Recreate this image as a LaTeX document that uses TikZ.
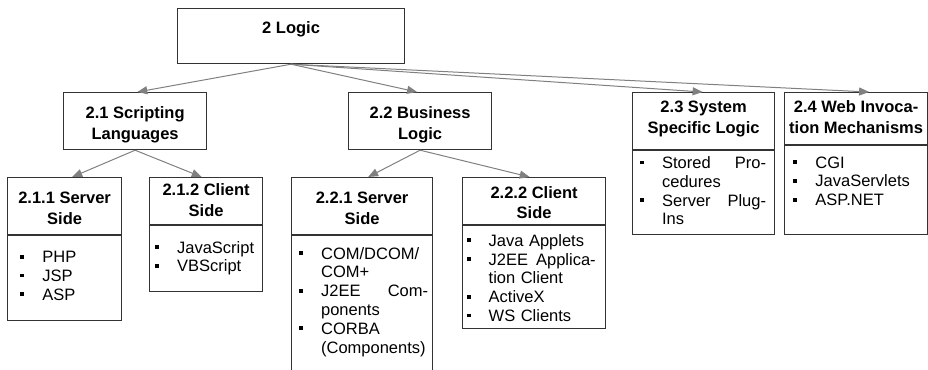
\documentclass[tikz,border=0pt]{standalone}
\usepackage{fontspec}
\setmainfont{Liberation Sans}
\usetikzlibrary{arrows.meta}
\setlength{\parindent}{0pt}
\newcommand{\bitem}{\par\noindent\llap{\rule[2pt]{1.9pt}{1.9pt}\hspace{9.1pt}}}
\newcommand{\ttl}[4]{\rule{0pt}{#1}#3\\#4\rule[-#2]{0pt}{#2}}

\begin{document}
\begin{tikzpicture}[x=0.5pt,y=-0.5pt,
  box/.style={draw=black!80,line width=0.6pt,rectangle,inner sep=1pt,anchor=north west},
  head/.style={box,align=center,font=\bfseries\fontsize{8.25}{10.1}\selectfont},
  items/.style={inner sep=0pt,anchor=north west,align=left,font=\fontsize{8.25}{9.4}\selectfont},
  link/.style={draw=black!50,line width=0.5pt,-{Triangle[length=5pt,width=4pt]}}]
  \useasboundingbox (0,0) rectangle (928,370);

  \node[head,minimum width=113.5pt,minimum height=27.5pt,text height=6pt,text depth=8.6pt] (logic) at (177,8) {2 Logic};

  \node[head,minimum width=71.5pt,minimum height=28.5pt] (s21) at (63,92) {\ttl{9.7pt}{1.8pt}{2.1 Scripting}{Languages}};
  \node[head,minimum width=71.5pt,minimum height=28.5pt] (s22) at (348,92) {\ttl{9.7pt}{1.8pt}{2.2 Business}{Logic}};
  \node[head,minimum width=71pt,minimum height=28.5pt] (s23) at (632,92) {\ttl{6.2pt}{4.3pt}{2.3 System}{Specific Logic}};
  \node[head,minimum width=71.5pt,minimum height=26pt] (s24) at (784,92) {\ttl{6.2pt}{1.8pt}{2.4 Web Invoca-}{tion Mechanisms}};
  \node[head,minimum width=57pt,minimum height=28.5pt] (s211) at (7,177) {\ttl{9.7pt}{1.8pt}{2.1.1 Server}{Side}};
  \node[head,minimum width=56.5pt,minimum height=23.5pt] (s212) at (149,177) {\ttl{6.7pt}{1.8pt}{2.1.2 Client}{Side}};
  \node[head,minimum width=70.5pt,minimum height=28.5pt] (s221) at (291,177) {\ttl{9.7pt}{1.8pt}{2.2.1 Server}{Side}};
  \node[head,minimum width=71.5pt,minimum height=23.5pt] (s222) at (462,177) {\ttl{9.2pt}{1.8pt}{2.2.2 Client}{Side}};

  \node[box,minimum width=71pt,minimum height=42pt] (l23) at (s23.south west) {};
  \node[box,minimum width=71.5pt,minimum height=44.5pt] (l24) at (s24.south west) {};
  \node[box,minimum width=57pt,minimum height=42.5pt] (l211) at (s211.south west) {};
  \node[box,minimum width=56.5pt,minimum height=33pt] (l212) at (s212.south west) {};
  \node[box,minimum width=70.5pt,minimum height=67.5pt] (l221) at (s221.south west) {};
  \node[box,minimum width=71.5pt,minimum height=51.5pt] (l222) at (s222.south west) {};

  \node[items,text width=38pt] (t211) at (42,243.3) {\bitem PHP\bitem JSP\bitem ASP};
  \node[items,text width=40pt] (t212) at (176.7,233.8) {\bitem JavaScript\bitem VBScript};
  \node[items,text width=53.5pt] (t221) at (320.7,239.8)
    {\bitem COM/DCOM/\\COM+\bitem J2EE\hfill Com-\\ponents\bitem CORBA\\(Components)};
  \node[items,text width=53.5pt] (t222) at (488.3,227)
    {\bitem Java Applets\bitem J2EE\hfill Applica-\\tion Client\bitem ActiveX\bitem WS Clients};
  \node[items,text width=52pt] (t23) at (661.7,149.2)
    {\bitem Stored\hfill Pro-\\cedures\bitem Server\hfill Plug-\\Ins};
  \node[items,text width=52pt] (t24) at (815,148.8) {\bitem CGI\bitem JavaServlets\bitem ASP.NET};

  \foreach \a/\b/\s in {logic/s21/1.1,logic/s22/-1.5,logic/s23/-0.5,logic/s24/6.5,
      s21/s211/3.8,s21/s212/-2.2,s22/s221/3,s22/s222/-2.2}
    \draw[link] (\a.south) -- ([xshift=\s pt]\b.north);
\end{tikzpicture}
\end{document}
